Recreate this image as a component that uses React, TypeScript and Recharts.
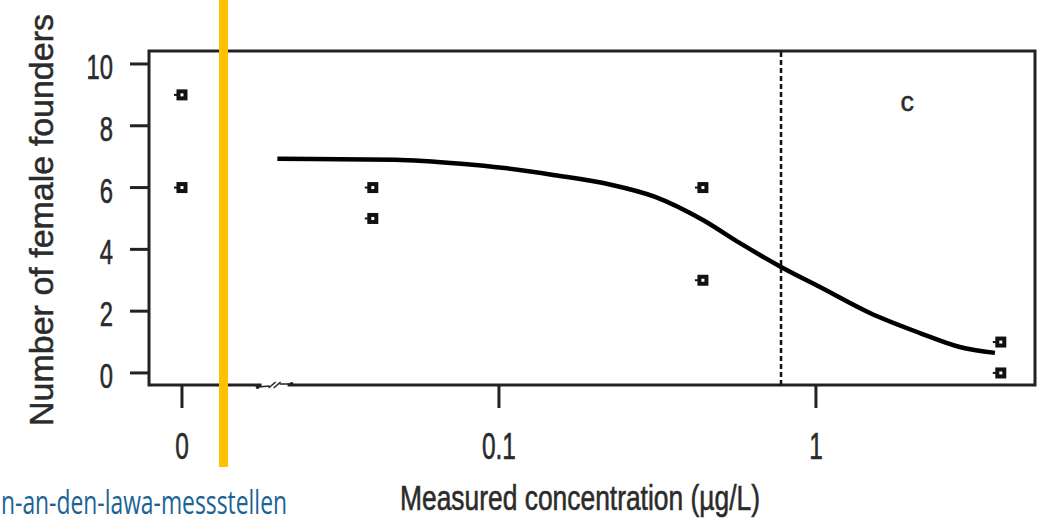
import React from "react"
import {
  ComposedChart,
  Line,
  Scatter,
  XAxis,
  YAxis,
  ReferenceArea,
  ReferenceLine,
  ReferenceDot,
} from "recharts"

// observed founders per replicate
const POINT_CONC = [0, 0, 0.04, 0.04, 0.44, 0.44, 3.83, 3.83]
const POINT_FOUNDERS = [9, 6, 6, 5, 6, 3, 1, 0]

// fitted dose-response curve
const FIT_CONC = [0.02, 0.047, 0.076, 0.104, 0.15, 0.224, 0.311, 0.44, 0.576, 0.776, 1.03, 1.48, 2.13, 2.84, 3.67]
const FIT_FOUNDERS = [6.93, 6.9, 6.77, 6.63, 6.4, 6.1, 5.7, 4.95, 4.2, 3.43, 2.78, 1.94, 1.29, 0.84, 0.65]

const X_TICKS = [0, 0.1, 1]
const X_TICK_LABELS = ["0", "0.1", "1"]
const Y_TICKS = [0, 2, 4, 6, 8, 10]

const EC50 = 0.776
const ZERO_AT = 0.01 // control group drawn here on the log axis
const BREAK_AT = 0.0196
const LETTER = "c"
const LETTER_CONC = 1.94
const LETTER_FOUNDERS = 8.74

const X_MIN = 0.00787
const X_MAX = 4.91
const Y_MIN = -0.39
const Y_MAX = 10.42

const INK = "#2b2b2b"
const FONT = "'Liberation Sans', Arial, sans-serif"

const toAxis = (c: number) => (c === 0 ? ZERO_AT : c)

const points = POINT_CONC.map((c, i) => ({ x: toAxis(c), y: POINT_FOUNDERS[i] }))
const fit = FIT_CONC.map((c, i) => ({ x: c, y: FIT_FOUNDERS[i] }))
const xTickPos = X_TICKS.map(toAxis)

const XTick = (props: any) => {
  const { x, y, payload } = props
  const idx = xTickPos.indexOf(payload.value)
  const label = idx >= 0 ? X_TICK_LABELS[idx] : String(payload.value)
  return (
    <text
      transform={`translate(${x},${y + 51}) scale(0.68,1)`}
      textAnchor="middle"
      fontSize={36}
      fontFamily={FONT}
      fill={INK}
      stroke={INK}
      strokeWidth={0.6}
    >
      {label}
    </text>
  )
}

const YTick = (props: any) => {
  const { x, y, payload } = props
  return (
    <text
      transform={`translate(${x},${y + 15}) scale(0.68,1)`}
      textAnchor="end"
      fontSize={35}
      fontFamily={FONT}
      fill={INK}
      stroke={INK}
      strokeWidth={0.6}
    >
      {payload.value}
    </text>
  )
}

const XTitle = (props: any) => {
  const { viewBox } = props
  const cx = viewBox.x + viewBox.width / 2 - 12
  return (
    <text
      x={cx}
      y={viewBox.y + 125}
      textAnchor="middle"
      fontSize={35}
      fontFamily={FONT}
      fill={INK}
      stroke={INK}
      strokeWidth={0.6}
      textLength={360}
      lengthAdjust="spacingAndGlyphs"
    >
      Measured concentration (µg/L)
    </text>
  )
}

const YTitle = (props: any) => {
  const { viewBox } = props
  const cy = viewBox.y + viewBox.height / 2 + 2
  return (
    <text
      transform={`translate(53,${cy}) rotate(-90)`}
      textAnchor="middle"
      fontSize={34}
      fontFamily={FONT}
      fill={INK}
      stroke={INK}
      strokeWidth={0.5}
      textLength={412}
      lengthAdjust="spacingAndGlyphs"
    >
      Number of female founders
    </text>
  )
}

const SquareMark = (props: any) => {
  const { cx, cy } = props
  return (
    <g>
      <rect x={cx - 3.5} y={cy - 3.5} width={7} height={7} fill="#fff" stroke="#111" strokeWidth={4} />
      <line x1={cx - 8} y1={cy} x2={cx - 5} y2={cy} stroke="#111" strokeWidth={2} />
    </g>
  )
}

const AxisBreak = (props: any) => {
  const { cx, cy } = props
  return (
    <g>
      <rect x={cx - 13} y={cy - 3} width={26} height={6} fill="#fff" />
      <line x1={cx - 17} y1={cy + 2} x2={cx - 5} y2={cy + 1} stroke="#222" strokeWidth={1.5} />
      <line x1={cx + 5} y1={cy - 1} x2={cx + 17} y2={cy - 1} stroke="#222" strokeWidth={1.5} />
      <line x1={cx - 6} y1={cy + 3} x2={cx + 1} y2={cy - 3} stroke="#222" strokeWidth={1.5} />
      <line x1={cx - 1} y1={cy + 3} x2={cx + 6} y2={cy - 3} stroke="#222" strokeWidth={1.5} />
      <circle cx={cx - 17} cy={cy + 2} r={2} fill="#222" />
      <circle cx={cx + 17} cy={cy - 1} r={2} fill="#222" />
    </g>
  )
}

const LetterMark = (props: any) => {
  const { cx, cy } = props
  return (
    <text x={cx} y={cy + 8} textAnchor="middle" fontSize={27} fontFamily={FONT} fill={INK} stroke={INK} strokeWidth={0.5}>
      {LETTER}
    </text>
  )
}

export default function App() {
  return (
    <div style={{ position: "absolute", left: 0, top: 0, width: 1049, height: 521, background: "#fff" }}>
      <ComposedChart width={1049} height={521} margin={{ top: 51, right: 14, left: 0, bottom: 0 }}>
        <XAxis
          dataKey="x"
          type="number"
          scale="log"
          domain={[X_MIN, X_MAX]}
          allowDataOverflow
          ticks={xTickPos}
          tick={<XTick />}
          tickSize={23}
          tickMargin={0}
          tickLine={{ stroke: "#222", strokeWidth: 3 }}
          axisLine={false}
          height={136}
          label={<XTitle />}
        />
        <YAxis
          dataKey="y"
          type="number"
          domain={[Y_MIN, Y_MAX]}
          allowDataOverflow
          ticks={Y_TICKS}
          tick={<YTick />}
          tickSize={19}
          tickMargin={17}
          tickLine={{ stroke: "#222", strokeWidth: 3 }}
          axisLine={false}
          width={149}
          label={<YTitle />}
        />
        <ReferenceArea
          x1={X_MIN}
          x2={X_MAX}
          y1={Y_MIN}
          y2={Y_MAX}
          fill="none"
          fillOpacity={0}
          stroke="#222"
          strokeWidth={3}
          ifOverflow="visible"
        />
        <ReferenceLine x={EC50} stroke="#111" strokeWidth={2.5} strokeDasharray="5 3" />
        <ReferenceDot x={BREAK_AT} y={Y_MIN} ifOverflow="visible" shape={<AxisBreak />} />
        <ReferenceDot x={LETTER_CONC} y={LETTER_FOUNDERS} shape={<LetterMark />} />
        <Line
          data={fit}
          dataKey="y"
          type="monotone"
          stroke="#000"
          strokeWidth={4.5}
          dot={false}
          isAnimationActive={false}
        />
        <Scatter data={points} dataKey="y" shape={<SquareMark />} isAnimationActive={false} />
      </ComposedChart>
      <div style={{ position: "absolute", left: 219, top: 0, width: 9, height: 467, background: "#FFC000" }} />
      <svg style={{ position: "absolute", left: 0, top: 478 }} width={320} height={43}>
        <text
          x={1}
          y={36}
          fontSize={32}
          fontFamily="'Open Sans', 'Noto Sans', sans-serif"
          fill="#1b6394"
          textLength={286}
          lengthAdjust="spacingAndGlyphs"
        >
          n-an-den-lawa-messstellen
        </text>
      </svg>
    </div>
  )
}
